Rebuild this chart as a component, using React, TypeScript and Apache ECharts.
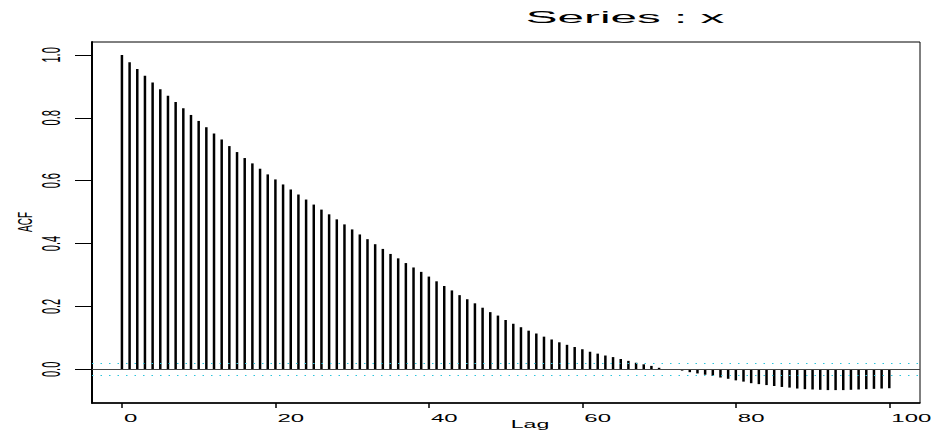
import React, { useEffect, useRef } from "react";
import * as echarts from "echarts";

const acfValues: number[] = [
  1.0, 0.977, 0.955, 0.934, 0.912, 0.891, 0.87, 0.85, 0.83, 0.809,
  0.79, 0.77, 0.75, 0.731, 0.71, 0.691, 0.672, 0.655, 0.638, 0.62,
  0.604, 0.588, 0.572, 0.556, 0.54, 0.524, 0.508, 0.493, 0.477, 0.461,
  0.445, 0.429, 0.414, 0.398, 0.383, 0.367, 0.353, 0.338, 0.324, 0.31,
  0.295, 0.28, 0.265, 0.251, 0.236, 0.223, 0.21, 0.196, 0.182, 0.171,
  0.157, 0.145, 0.134, 0.123, 0.114, 0.104, 0.095, 0.086, 0.078, 0.071,
  0.064, 0.056, 0.05, 0.044, 0.039, 0.033, 0.027, 0.021, 0.016, 0.011,
  0.005, 0.001, -0.002, -0.004, -0.009, -0.013, -0.017, -0.021, -0.026, -0.03,
  -0.035, -0.039, -0.044, -0.047, -0.05, -0.053, -0.056, -0.058, -0.061, -0.063,
  -0.064, -0.065, -0.066, -0.066, -0.066, -0.065, -0.064, -0.063, -0.062, -0.061,
  -0.06,
];

const xTicks: number[] = [0, 20, 40, 60, 80, 100];
const yTicks: number[] = [0, 0.2, 0.4, 0.6, 0.8, 1.0];
const ciBound = 0.0196;
const titleText = "Series : x";
const xLabel = "Lag";
const yLabel = "ACF";

export default function App() {
  const ref = useRef<HTMLDivElement>(null);
  useEffect(() => {
    if (!ref.current) return;
    const chart = echarts.init(ref.current, null, { renderer: "svg" });
    const font = "Liberation Sans";
    chart.setOption({
      animation: false,
      backgroundColor: "#fff",
      grid: {
        left: 92,
        right: 12,
        top: 42,
        bottom: 29,
        show: true,
        borderColor: "#000",
        borderWidth: 1,
      },
      xAxis: {
        type: "value",
        min: -3.9,
        max: 104,
        splitLine: { show: false },
        axisLine: { onZero: false, lineStyle: { color: "#000", width: 1.5 } },
        axisTick: {
          customValues: xTicks,
          length: 5,
          lineStyle: { color: "#000", width: 1.5 },
        },
        axisLabel: { show: false },
      },
      yAxis: {
        type: "value",
        min: -0.107,
        max: 1.041,
        splitLine: { show: false },
        axisLine: { onZero: false, lineStyle: { color: "#000", width: 2 } },
        axisTick: {
          customValues: yTicks,
          length: 17,
          lineStyle: { color: "#000", width: 1 },
        },
        axisLabel: { show: false },
      },
      series: [
        {
          type: "bar",
          data: acfValues.map((v, i) => [i, v]),
          barWidth: 2.5,
          itemStyle: { color: "#000" },
          silent: true,
          markLine: {
            silent: true,
            symbol: "none",
            label: { show: false },
            data: [
              { yAxis: 0, lineStyle: { color: "#444", type: "solid", width: 1 } },
              { yAxis: ciBound, lineStyle: { color: "#2cc4dc", type: [1.5, 7], width: 1 } },
              { yAxis: -ciBound, lineStyle: { color: "#2cc4dc", type: [1.5, 7], width: 1 } },
            ],
          },
        },
      ],
    });
    const xTickTexts = xTicks.map((v) => ({
      type: "text",
      x: (chart.convertToPixel({ xAxisIndex: 0 }, v) as number) + 2,
      y: 418,
      scaleX: 2.4,
      silent: true,
      style: {
        text: String(v),
        fontFamily: font,
        fontSize: 10,
        fill: "#000",
        align: "left",
        verticalAlign: "middle",
      },
    }));
    const yTickTexts = yTicks.map((v) => ({
      type: "text",
      x: 51,
      y: chart.convertToPixel({ yAxisIndex: 0 }, v) as number,
      rotation: Math.PI / 2,
      scaleY: 2.4,
      silent: true,
      style: {
        text: v.toFixed(1),
        fontFamily: font,
        fontSize: 11,
        fill: "#000",
        align: "center",
        verticalAlign: "middle",
      },
    }));
    chart.setOption({
      graphic: [
        {
          type: "text",
          x: 625,
          y: 17,
          scaleX: 2.8,
          silent: true,
          style: {
            text: titleText,
            fontFamily: font,
            fontSize: 17,
            fill: "#000",
            align: "center",
            verticalAlign: "middle",
          },
        },
        {
          type: "text",
          x: 530,
          y: 419,
          scaleX: 2.1,
          silent: true,
          style: {
            text: xLabel,
            fontFamily: font,
            fontSize: 11,
            fill: "#000",
            align: "center",
            verticalAlign: "top",
          },
        },
        {
          type: "text",
          x: 25,
          y: 222,
          rotation: Math.PI / 2,
          scaleY: 2.0,
          silent: true,
          style: {
            text: yLabel,
            fontFamily: font,
            fontSize: 10,
            fill: "#000",
            align: "center",
            verticalAlign: "middle",
          },
        },
        ...xTickTexts,
        ...yTickTexts,
      ],
    });
    return () => chart.dispose();
  }, []);
  return (
    <div
      ref={ref}
      style={{ position: "absolute", left: 0, top: 0, width: 932, height: 432 }}
    />
  );
}
